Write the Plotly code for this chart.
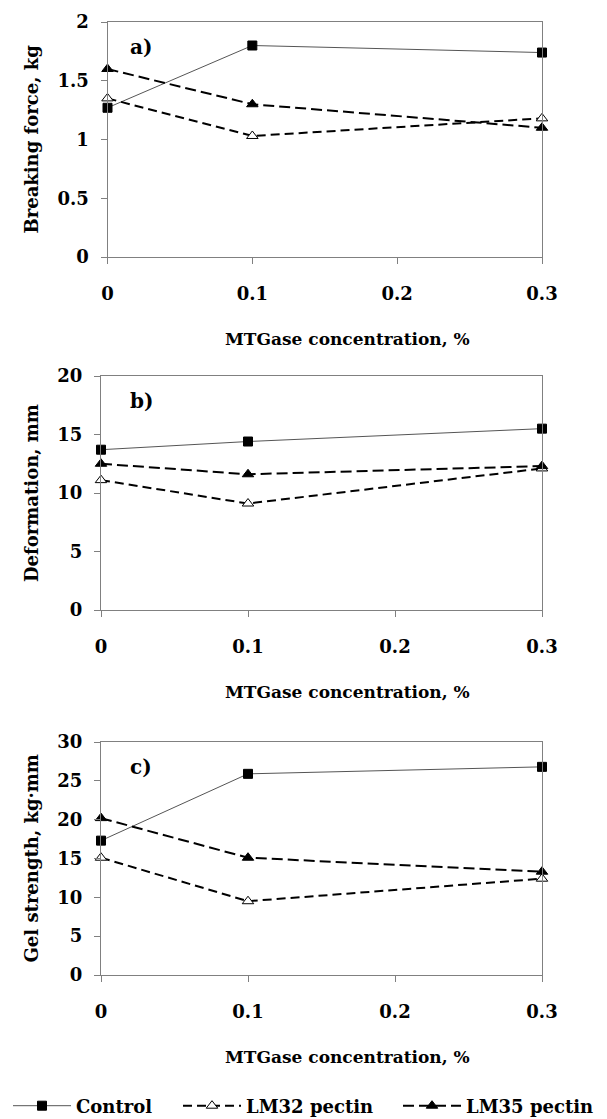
import plotly.graph_objects as go

conc = [0, 0.1, 0.3]
x_ticks = [0, 0.1, 0.2, 0.3]
x_tick_labels = ["0", "0.1", "0.2", "0.3"]

series_names = ["Control", "LM32 pectin", "LM35 pectin"]

breaking_control = [1.27, 1.80, 1.74]
breaking_lm32 = [1.35, 1.03, 1.18]
breaking_lm35 = [1.60, 1.30, 1.10]

deform_control = [13.7, 14.4, 15.5]
deform_lm32 = [11.1, 9.1, 12.1]
deform_lm35 = [12.5, 11.6, 12.3]

gel_control = [17.3, 25.9, 26.8]
gel_lm32 = [15.1, 9.5, 12.4]
gel_lm35 = [20.2, 15.1, 13.3]

panel_labels = ["a)", "b)", "c)"]
y_titles = ["Breaking force, kg", "Deformation, mm", "Gel strength, kg·mm"]
y_ranges = [[0, 2], [0, 20], [0, 30]]
y_dticks = [0.5, 5, 5]
x_title = "MTGase concentration, %"

FONT = "DejaVu Serif"

panels = [
    (breaking_control, breaking_lm32, breaking_lm35),
    (deform_control, deform_lm32, deform_lm35),
    (gel_control, gel_lm32, gel_lm35),
]

OFF = 8  # page body margin
W, H = 607 - OFF, 1119 - OFF
L, R, T, B = 101 - OFF, 65, 22 - OFF, 144
PW = W - L - R
PH = H - T - B

# panel pixel boxes in window coords (top, bottom, left)
boxes = [(22, 257, 107.5), (376, 610, 101), (742, 975, 101)]
legend_x = [0, 178, 398]


def py(y):
    return (H - B - (y - OFF)) / PH


def px(x):
    return ((x - OFF) - L) / PW


fig = go.Figure()

styles = [
    dict(line=dict(color="#555555", width=1),
         marker=dict(symbol="square", size=9, color="black", line=dict(color="black", width=1))),
    dict(line=dict(color="black", width=2, dash="9px,5px"),
         marker=dict(symbol="triangle-up", size=10, color="white", line=dict(color="black", width=1))),
    dict(line=dict(color="black", width=2, dash="11px,5px"),
         marker=dict(symbol="triangle-up", size=10, color="black", line=dict(color="black", width=1))),
]

legend_ids = ["legend", "legend2", "legend3"]

for i, data in enumerate(panels):
    xa = "x" if i == 0 else f"x{i+1}"
    ya = "y" if i == 0 else f"y{i+1}"
    for j, vals in enumerate(data):
        fig.add_trace(go.Scatter(
            x=conc, y=vals, mode="lines+markers", name=series_names[j],
            xaxis=xa, yaxis=ya, showlegend=(i == 0), cliponaxis=False,
            legend=legend_ids[j],
            line=styles[j]["line"], marker=styles[j]["marker"],
        ))

axis_common = dict(showline=True, linecolor="#808080", linewidth=1, mirror=True,
                   showgrid=False, zeroline=False, ticks="outside", tickcolor="#808080",
                   ticklen=6, tickfont=dict(family=FONT, size=18, color="black", weight="bold"))

layout = dict(
    width=W, height=H,
    margin=dict(l=L, r=R, t=T, b=B, autoexpand=False),
    paper_bgcolor="white", plot_bgcolor="white",
    font=dict(family=FONT, size=18, color="black", weight="bold"),
)

for k, lid in enumerate(legend_ids):
    layout[lid] = dict(orientation="h", xref="container", yref="container",
                       x=max(0, (legend_x[k] - OFF)) / W, xanchor="left",
                       y=1 - (1106 - OFF) / H, yanchor="middle",
                       font=dict(family=FONT, size=18, color="black", weight="bold"),
                       itemwidth=58, bgcolor="rgba(0,0,0,0)", borderwidth=0)

annotations = []
for i in range(3):
    xk = "xaxis" if i == 0 else f"xaxis{i+1}"
    yk = "yaxis" if i == 0 else f"yaxis{i+1}"
    ya = "y" if i == 0 else f"y{i+1}"
    xa = "x" if i == 0 else f"x{i+1}"
    top, bot, left = boxes[i]
    layout[xk] = dict(axis_common, domain=[px(left), 1], anchor=ya, range=[0, 0.3],
                      tickvals=x_ticks, ticktext=x_tick_labels, ticklabelstandoff=14)
    layout[yk] = dict(axis_common, domain=[py(bot), py(top)], anchor=xa, range=y_ranges[i],
                      dtick=y_dticks[i], tick0=0, ticklabelstandoff=8)
    annotations.append(dict(text=panel_labels[i], xref="paper", yref="paper",
                            x=px(141), y=py(top + 25), xanchor="center", yanchor="middle",
                            showarrow=False, font=dict(family=FONT, size=20, weight="bold")))
    annotations.append(dict(text=y_titles[i], xref="paper", yref="paper",
                            x=px(31), y=py((top + bot) / 2), xanchor="center", yanchor="middle",
                            textangle=-90, showarrow=False,
                            font=dict(family=FONT, size=18, weight="bold")))
    annotations.append(dict(text=x_title, xref="paper", yref="paper",
                            x=px(347), y=py(bot + 82), xanchor="center", yanchor="middle",
                            showarrow=False, font=dict(family=FONT, size=17, weight="bold")))

layout["annotations"] = annotations
fig.update_layout(**layout)

fig.write_html("out.html")
